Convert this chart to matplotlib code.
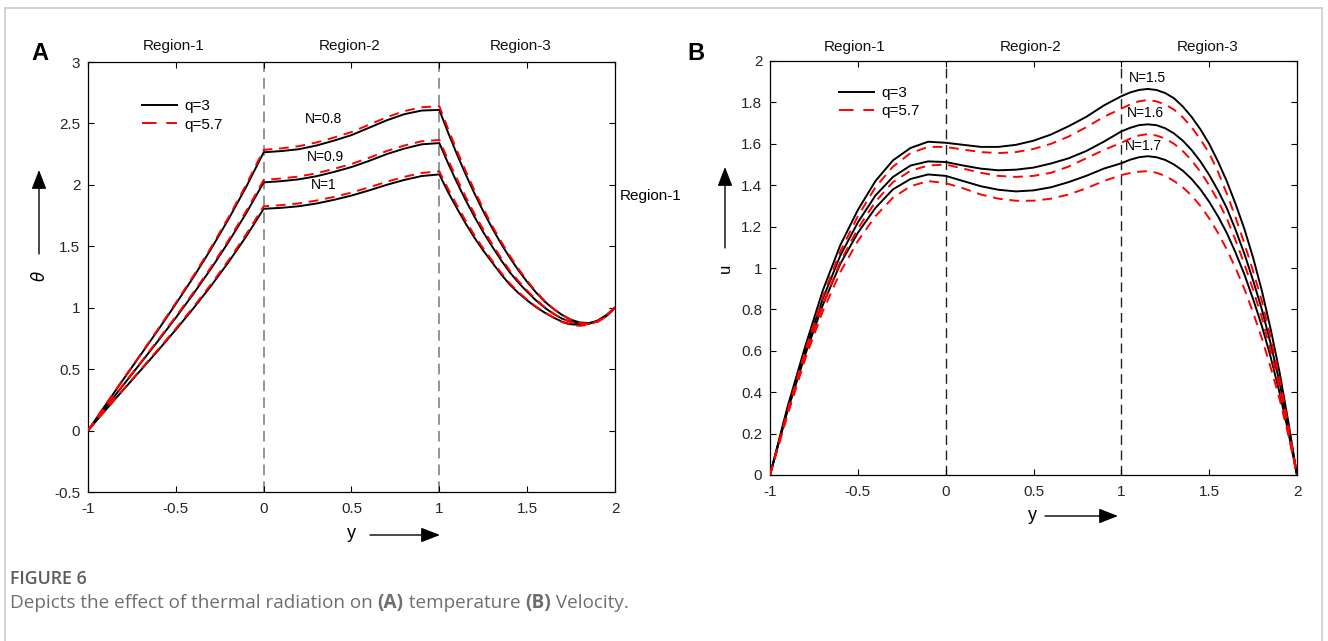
import matplotlib
matplotlib.use("Agg")
import matplotlib.pyplot as plt
from matplotlib.lines import Line2D

plt.rcParams['font.family'] = ['Liberation Sans', 'DejaVu Sans']
plt.rcParams['axes.unicode_minus'] = False

# ---------------- data: panel A (temperature theta) ----------------
yA = [-1.0, -0.9, -0.8, -0.7, -0.6, -0.5, -0.4, -0.3, -0.2, -0.1,
      0.0, 0.1, 0.2, 0.3, 0.4, 0.5, 0.6, 0.7, 0.8, 0.9,
      1.0, 1.05, 1.1, 1.15, 1.2, 1.25, 1.3, 1.35, 1.4, 1.45,
      1.5, 1.55, 1.6, 1.65, 1.7, 1.75, 1.8, 1.85, 1.9, 1.95, 2.0]

theta_N08_q3 = [0, 0.209, 0.414, 0.617, 0.821, 1.031, 1.248, 1.477, 1.721, 1.982,
                2.265, 2.275, 2.29, 2.32, 2.36, 2.405, 2.465, 2.525, 2.575, 2.605,
                2.61, 2.425, 2.25, 2.085, 1.93, 1.785, 1.65, 1.525, 1.41, 1.305,
                1.21, 1.125, 1.05, 0.99, 0.94, 0.902, 0.88, 0.875, 0.89, 0.93, 1.0]
theta_N09_q3 = [0, 0.187, 0.369, 0.550, 0.732, 0.919, 1.113, 1.317, 1.535, 1.768,
                2.02, 2.03, 2.045, 2.07, 2.105, 2.145, 2.195, 2.25, 2.295, 2.33,
                2.34, 2.175, 2.02, 1.875, 1.74, 1.615, 1.50, 1.39, 1.29, 1.205,
                1.13, 1.06, 1.0, 0.95, 0.91, 0.885, 0.87, 0.87, 0.89, 0.935, 1.0]
theta_N10_q3 = [0, 0.167, 0.330, 0.491, 0.654, 0.821, 0.995, 1.177, 1.371, 1.579,
                1.805, 1.813, 1.826, 1.848, 1.878, 1.913, 1.955, 2.0, 2.04, 2.072,
                2.085, 1.94, 1.81, 1.685, 1.57, 1.465, 1.37, 1.275, 1.19, 1.12,
                1.06, 1.005, 0.96, 0.92, 0.885, 0.865, 0.86, 0.87, 0.895, 0.94, 1.0]

theta_N08_q57 = [0, 0.211, 0.418, 0.622, 0.829, 1.040, 1.259, 1.490, 1.736, 2.000,
                 2.285, 2.297, 2.315, 2.345, 2.385, 2.43, 2.49, 2.55, 2.60, 2.632,
                 2.64, 2.455, 2.28, 2.113, 1.955, 1.808, 1.67, 1.543, 1.425, 1.318,
                 1.22, 1.132, 1.055, 0.992, 0.94, 0.9, 0.875, 0.87, 0.885, 0.928, 1.0]
theta_N09_q57 = [0, 0.189, 0.373, 0.555, 0.740, 0.928, 1.124, 1.330, 1.550, 1.785,
                 2.04, 2.052, 2.068, 2.094, 2.13, 2.17, 2.22, 2.275, 2.32, 2.355,
                 2.365, 2.203, 2.05, 1.902, 1.765, 1.637, 1.52, 1.408, 1.305, 1.218,
                 1.14, 1.067, 1.005, 0.952, 0.91, 0.882, 0.865, 0.866, 0.885, 0.93, 1.0]
theta_N10_q57 = [0, 0.169, 0.333, 0.497, 0.662, 0.830, 1.006, 1.190, 1.386, 1.597,
                 1.825, 1.835, 1.849, 1.872, 1.902, 1.937, 1.98, 2.025, 2.065, 2.097,
                 2.11, 1.967, 1.835, 1.708, 1.59, 1.483, 1.385, 1.288, 1.20, 1.128,
                 1.065, 1.01, 0.962, 0.92, 0.882, 0.86, 0.852, 0.862, 0.89, 0.938, 1.0]

A_xticks = [-1, -0.5, 0, 0.5, 1, 1.5, 2]
A_xticklabels = ["-1", "-0.5", "0", "0.5", "1", "1.5", "2"]
A_yticks = [-0.5, 0, 0.5, 1, 1.5, 2, 2.5, 3]
A_yticklabels = ["-0.5", "0", "0.5", "1", "1.5", "2", "2.5", "3"]
A_curve_labels = ["N=0.8", "N=0.9", "N=1"]
A_label_pos = [(0.34, 2.54), (0.35, 2.23), (0.34, 2.0)]

# ---------------- data: panel B (velocity u) ----------------
yB = [-1.0, -0.9, -0.8, -0.7, -0.6, -0.5, -0.4, -0.3, -0.2, -0.1,
      0.0, 0.1, 0.2, 0.3, 0.4, 0.5, 0.6, 0.7, 0.8, 0.9,
      1.0, 1.05, 1.1, 1.15, 1.2, 1.25, 1.3, 1.35, 1.4, 1.45,
      1.5, 1.55, 1.6, 1.65, 1.7, 1.75, 1.8, 1.85, 1.9, 1.95, 2.0]

u_N15_q3 = [0, 0.33, 0.62, 0.89, 1.11, 1.28, 1.42, 1.52, 1.58, 1.61,
            1.605, 1.595, 1.585, 1.585, 1.595, 1.615, 1.645, 1.685, 1.73, 1.785,
            1.83, 1.848, 1.86, 1.865, 1.86, 1.845, 1.82, 1.78, 1.73, 1.67,
            1.60, 1.515, 1.42, 1.31, 1.19, 1.05, 0.89, 0.705, 0.50, 0.26, 0]
u_N16_q3 = [0, 0.32, 0.60, 0.85, 1.06, 1.22, 1.35, 1.44, 1.495, 1.515,
            1.512, 1.495, 1.48, 1.472, 1.475, 1.485, 1.505, 1.53, 1.565, 1.61,
            1.66, 1.677, 1.69, 1.694, 1.69, 1.675, 1.65, 1.615, 1.57, 1.515,
            1.45, 1.375, 1.29, 1.185, 1.07, 0.94, 0.80, 0.635, 0.45, 0.235, 0]
u_N17_q3 = [0, 0.31, 0.58, 0.82, 1.02, 1.17, 1.29, 1.38, 1.43, 1.452,
            1.445, 1.42, 1.395, 1.378, 1.37, 1.375, 1.39, 1.415, 1.445, 1.48,
            1.506, 1.523, 1.535, 1.54, 1.535, 1.522, 1.50, 1.47, 1.43, 1.38,
            1.32, 1.25, 1.17, 1.075, 0.97, 0.85, 0.72, 0.57, 0.40, 0.21, 0]

u_N15_q57 = [0, 0.31, 0.60, 0.86, 1.08, 1.25, 1.39, 1.49, 1.555, 1.585,
             1.585, 1.572, 1.56, 1.555, 1.56, 1.575, 1.60, 1.635, 1.68, 1.73,
             1.77, 1.79, 1.805, 1.812, 1.805, 1.79, 1.765, 1.728, 1.68, 1.622,
             1.555, 1.465, 1.36, 1.245, 1.12, 0.985, 0.84, 0.665, 0.47, 0.245, 0]
u_N16_q57 = [0, 0.30, 0.58, 0.82, 1.03, 1.19, 1.32, 1.415, 1.47, 1.495,
             1.50, 1.48, 1.46, 1.445, 1.44, 1.445, 1.46, 1.49, 1.53, 1.57,
             1.605, 1.625, 1.64, 1.647, 1.64, 1.625, 1.60, 1.565, 1.52, 1.465,
             1.40, 1.325, 1.24, 1.135, 1.02, 0.895, 0.76, 0.60, 0.42, 0.22, 0]
u_N17_q57 = [0, 0.29, 0.56, 0.79, 0.98, 1.13, 1.25, 1.34, 1.395, 1.42,
             1.41, 1.385, 1.355, 1.335, 1.325, 1.325, 1.335, 1.355, 1.385, 1.42,
             1.449, 1.459, 1.465, 1.468, 1.46, 1.445, 1.42, 1.39, 1.35, 1.30,
             1.24, 1.17, 1.09, 1.0, 0.90, 0.785, 0.66, 0.52, 0.37, 0.195, 0]

B_xticks = [-1, -0.5, 0, 0.5, 1, 1.5, 2]
B_xticklabels = ["-1", "-0.5", "0", "0.5", "1", "1.5", "2"]
B_yticks = [0, 0.2, 0.4, 0.6, 0.8, 1, 1.2, 1.4, 1.6, 1.8, 2]
B_yticklabels = ["0", "0.2", "0.4", "0.6", "0.8", "1", "1.2", "1.4", "1.6", "1.8", "2"]
B_curve_labels = ["N=1.5", "N=1.6", "N=1.7"]
B_label_pos = [(1.146, 1.918), (1.135, 1.749), (1.124, 1.589)]

legend_labels = ["q=3", "q=5.7"]
region_labels = ["Region-1", "Region-2", "Region-3"]

# ---------------- figure ----------------
W, H = 1328, 641
fig = plt.figure(figsize=(W / 100, H / 100), dpi=100)


def fx(px):
    return px / W


def fy(py):
    return 1 - py / H


# outer frame
for (x0, y0, x1, y1) in [(5, 8, 1322, 8), (5, 8, 5, 641), (1322, 8, 1322, 641)]:
    fig.add_artist(Line2D([fx(x0), fx(x1)], [fy(y0), fy(y1)], color='#cccccc', lw=1.2))

TICK_COLOR = '#262626'
BLACK_LW = 1.4
RED_DASH = (5, 3.5)
LEGEND_DASH = (7.5, 5)


def style_axes(ax, xt, xtl, yt, ytl):
    ax.set_xticks(xt, xtl)
    ax.set_yticks(yt, ytl)
    ax.tick_params(direction='in', top=True, right=True, length=4.5, width=0.8,
                   labelsize=11, labelcolor=TICK_COLOR)
    ax.tick_params(axis='y', pad=5.5)
    ax.tick_params(axis='x', pad=7)
    for s in ax.spines.values():
        s.set_linewidth(0.9)


# ---- Panel A ----
axA = fig.add_axes([fx(88), fy(492), fx(615) - fx(88), fy(62) - fy(492)])
axA.set_xlim(-1, 2)
axA.set_ylim(-0.5, 3)
for xv in [0, 1]:
    axA.axvline(xv, color='#777777', lw=1.1, dashes=(7, 4), zorder=1)
for blk, red in [(theta_N08_q3, theta_N08_q57), (theta_N09_q3, theta_N09_q57),
                 (theta_N10_q3, theta_N10_q57)]:
    axA.plot(yA, blk, color='black', lw=BLACK_LW, zorder=3)
    axA.plot(yA, red, color='red', lw=BLACK_LW, dashes=RED_DASH, zorder=4)
for lab, (xv, yv) in zip(A_curve_labels, A_label_pos):
    axA.text(xv, yv, lab, fontsize=10, ha='center', va='center', color='black')
style_axes(axA, A_xticks, A_xticklabels, A_yticks, A_yticklabels)
hA = [Line2D([], [], color='black', lw=BLACK_LW),
      Line2D([], [], color='red', lw=BLACK_LW, dashes=LEGEND_DASH)]
axA.legend(hA, legend_labels, loc='upper left', bbox_to_anchor=(0.091, 0.928),
           frameon=False, fontsize=11, handlelength=2.3, handletextpad=0.5,
           labelspacing=0.3, borderaxespad=0)

# ---- Panel B ----
axB = fig.add_axes([fx(770), fy(475), fx(1297) - fx(770), fy(61) - fy(475)])
axB.set_xlim(-1, 2)
axB.set_ylim(0, 2)
for xv in [0, 1]:
    axB.axvline(xv, color='#222222', lw=1.0, dashes=(7, 4), zorder=1)
for blk, red in [(u_N15_q3, u_N15_q57), (u_N16_q3, u_N16_q57), (u_N17_q3, u_N17_q57)]:
    axB.plot(yB, blk, color='black', lw=BLACK_LW, zorder=3)
    axB.plot(yB, red, color='red', lw=BLACK_LW, dashes=RED_DASH, zorder=4)
for lab, (xv, yv) in zip(B_curve_labels, B_label_pos):
    axB.text(xv, yv, lab, fontsize=10, ha='center', va='center', color='black')
style_axes(axB, B_xticks, B_xticklabels, B_yticks, B_yticklabels)
hB = [Line2D([], [], color='black', lw=BLACK_LW),
      Line2D([], [], color='red', lw=BLACK_LW, dashes=LEGEND_DASH)]
axB.legend(hB, legend_labels, loc='upper left', bbox_to_anchor=(0.119, 0.954),
           frameon=False, fontsize=11, handlelength=2.3, handletextpad=0.5,
           labelspacing=0.25, borderaxespad=0)

# ---- region labels and panel letters ----
for lab, px in zip(region_labels, [174, 350, 521]):
    fig.text(fx(px), fy(46), lab, fontsize=11, ha='center', va='center', color='#111111')
for lab, px in zip(region_labels, [855, 1031, 1208]):
    fig.text(fx(px), fy(47), lab, fontsize=11, ha='center', va='center', color='#111111')
fig.text(fx(620), fy(196), region_labels[0], fontsize=11, ha='left', va='center', color='black')
fig.text(fx(40), fy(54), "A", fontsize=17, fontweight='bold', ha='center', va='center')
fig.text(fx(696), fy(53), "B", fontsize=17, fontweight='bold', ha='center', va='center')

# ---- axis labels with arrows ----
arrow_kw = dict(arrowstyle='-|>,head_length=0.9,head_width=0.35', color='black',
                lw=1.0, mutation_scale=13, shrinkA=0, shrinkB=0)
fig.text(fx(39), fy(276), r"$\theta$", fontsize=12, rotation=90, ha='center', va='center')
axA.annotate('', xy=(39, H - 170), xytext=(39, H - 254), xycoords='figure pixels',
             textcoords='figure pixels', arrowprops=arrow_kw)
fig.text(fx(351), fy(534), "y", fontsize=13, ha='center', va='center')
axA.annotate('', xy=(440, H - 535), xytext=(370, H - 535), xycoords='figure pixels',
             textcoords='figure pixels', arrowprops=arrow_kw)

fig.text(fx(725), fy(268), "u", fontsize=12, rotation=90, ha='center', va='center')
axB.annotate('', xy=(725, H - 167), xytext=(725, H - 248), xycoords='figure pixels',
             textcoords='figure pixels', arrowprops=arrow_kw)
fig.text(fx(1032), fy(515), "y", fontsize=13, ha='center', va='center')
axB.annotate('', xy=(1118, H - 516), xytext=(1045, H - 516), xycoords='figure pixels',
             textcoords='figure pixels', arrowprops=arrow_kw)

# ---- caption ----
cap_font = ['Open Sans', 'DejaVu Sans']
fig.text(fx(10), fy(579), "FIGURE 6", fontsize=12.8, family=cap_font, fontweight='semibold',
         color='#5c5c5c', ha='left', va='center')
parts = [("Depicts the effect of thermal radiation on ", 'normal'), ("(A)", 'bold'),
         (" temperature ", 'normal'), ("(B)", 'bold'), (" Velocity.", 'normal')]
renderer = fig.canvas.get_renderer()
xcur = 10
for s, w in parts:
    t = fig.text(fx(xcur), fy(603), s, fontsize=13.6, family=cap_font, fontweight=w,
                 color='#6e6e6e', ha='left', va='center')
    bb = t.get_window_extent(renderer)
    xcur += bb.width

fig.savefig("out.png", dpi=100)
